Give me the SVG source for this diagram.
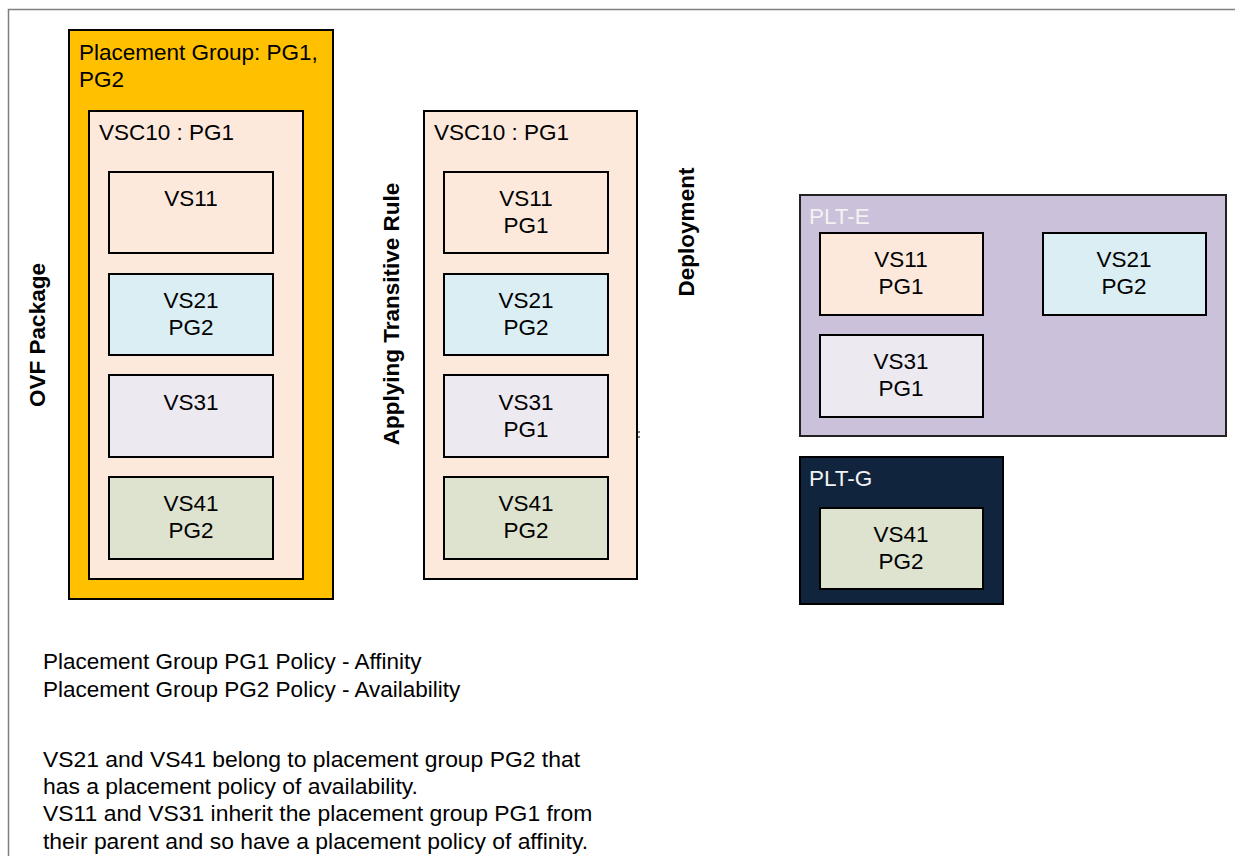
<svg xmlns="http://www.w3.org/2000/svg" width="1235" height="856" viewBox="0 0 1235 856">
<style>
text{font-family:"Liberation Sans",Arial,sans-serif;font-size:22.5px;fill:#000}
.c{text-anchor:middle}
.b{font-weight:bold}
.w{fill:#F2F2F2}
.n{font-size:22.9px}
.box{stroke:#000;stroke-width:2}
.peach{fill:#FDE9DC}
.blue{fill:#DAEEF3}
.lav{fill:#ECE9F1}
.olive{fill:#DDE3CE}
</style>
<rect x="8.5" y="9.5" width="1240" height="860" fill="#fff" stroke="#7f7f7f" stroke-width="1.5"/>

<g id="ovf">
<rect class="box" x="69" y="30" width="264" height="569" fill="#FFC000"/>
<text x="79" y="60">Placement Group: PG1,</text>
<text x="79" y="87">PG2</text>
</g>
<g id="vsc10-a">
<rect class="box peach" x="89" y="111" width="214" height="468"/>
<text x="99" y="140">VSC10 : PG1</text>
</g>
<g id="vs11-a"><rect class="box peach" x="109" y="172" width="164" height="81"/><text class="c" x="191" y="206">VS11</text></g>
<g id="vs21-a"><rect class="box blue" x="109" y="274" width="164" height="81"/><text class="c" x="191" y="308">VS21</text><text class="c" x="191" y="335">PG2</text></g>
<g id="vs31-a"><rect class="box lav" x="109" y="375" width="164" height="82"/><text class="c" x="191" y="410">VS31</text></g>
<g id="vs41-a"><rect class="box olive" x="109" y="477" width="164" height="82"/><text class="c" x="191" y="511">VS41</text><text class="c" x="191" y="538">PG2</text></g>

<g id="label-ovf"><text class="b c" transform="translate(45,335) rotate(-90)">OVF Package</text></g>
<g id="label-rule"><text class="b c" transform="translate(399,314) rotate(-90)">Applying Transitive Rule</text></g>
<g id="label-deploy"><text class="b c" transform="translate(694,232) rotate(-90)">Deployment</text></g>

<g id="vsc10-b">
<rect class="box peach" x="424" y="111" width="213" height="468"/>
<text x="434" y="140">VSC10 : PG1</text>
</g>
<g id="vs11-b"><rect class="box peach" x="444" y="172" width="164" height="81"/><text class="c" x="526" y="206">VS11</text><text class="c" x="526" y="233">PG1</text></g>
<g id="vs21-b"><rect class="box blue" x="444" y="274" width="164" height="81"/><text class="c" x="526" y="308">VS21</text><text class="c" x="526" y="335">PG2</text></g>
<g id="vs31-b"><rect class="box lav" x="444" y="375" width="164" height="82"/><text class="c" x="526" y="410">VS31</text><text class="c" x="526" y="437">PG1</text></g>
<g id="vs41-b"><rect class="box olive" x="444" y="477" width="164" height="82"/><text class="c" x="526" y="511">VS41</text><text class="c" x="526" y="538">PG2</text></g>
<line x1="637" y1="432" x2="640" y2="432" stroke="#000" stroke-width="1"/>
<line x1="638" y1="437" x2="640" y2="437" stroke="#000" stroke-width="1"/>

<g id="plt-e">
<rect x="800" y="195" width="426" height="241" fill="#CCC1DA" stroke="#222" stroke-width="2"/>
<text class="w" x="809" y="224">PLT-E</text>
</g>
<g id="vs11-c"><rect class="box peach" x="820" y="233" width="163" height="82"/><text class="c" x="901" y="267">VS11</text><text class="c" x="901" y="294">PG1</text></g>
<g id="vs21-c"><rect class="box blue" x="1043" y="233" width="163" height="82"/><text class="c" x="1124" y="267">VS21</text><text class="c" x="1124" y="294">PG2</text></g>
<g id="vs31-c"><rect class="box lav" x="820" y="335" width="163" height="82"/><text class="c" x="901" y="369">VS31</text><text class="c" x="901" y="396">PG1</text></g>

<g id="plt-g">
<rect x="800" y="457" width="203" height="147" fill="#10243E" stroke="#000" stroke-width="2"/>
<text class="w" x="809" y="486">PLT-G</text>
</g>
<g id="vs41-c"><rect class="box olive" x="820" y="508" width="163" height="81"/><text class="c" x="901" y="542">VS41</text><text class="c" x="901" y="569">PG2</text></g>

<g id="notes">
<text x="43" y="669">Placement Group PG1 Policy - Affinity</text>
<text x="43" y="697">Placement Group PG2 Policy - Availability</text>
<text class="n" x="43" y="767">VS21 and VS41 belong to placement group PG2 that</text>
<text class="n" x="43" y="794">has a placement policy of availability.</text>
<text class="n" x="43" y="821">VS11 and VS31 inherit the placement group PG1 from</text>
<text class="n" x="43" y="849">their parent and so have a placement policy of affinity.</text>
</g>
<g id="connectors"></g>
</svg>
